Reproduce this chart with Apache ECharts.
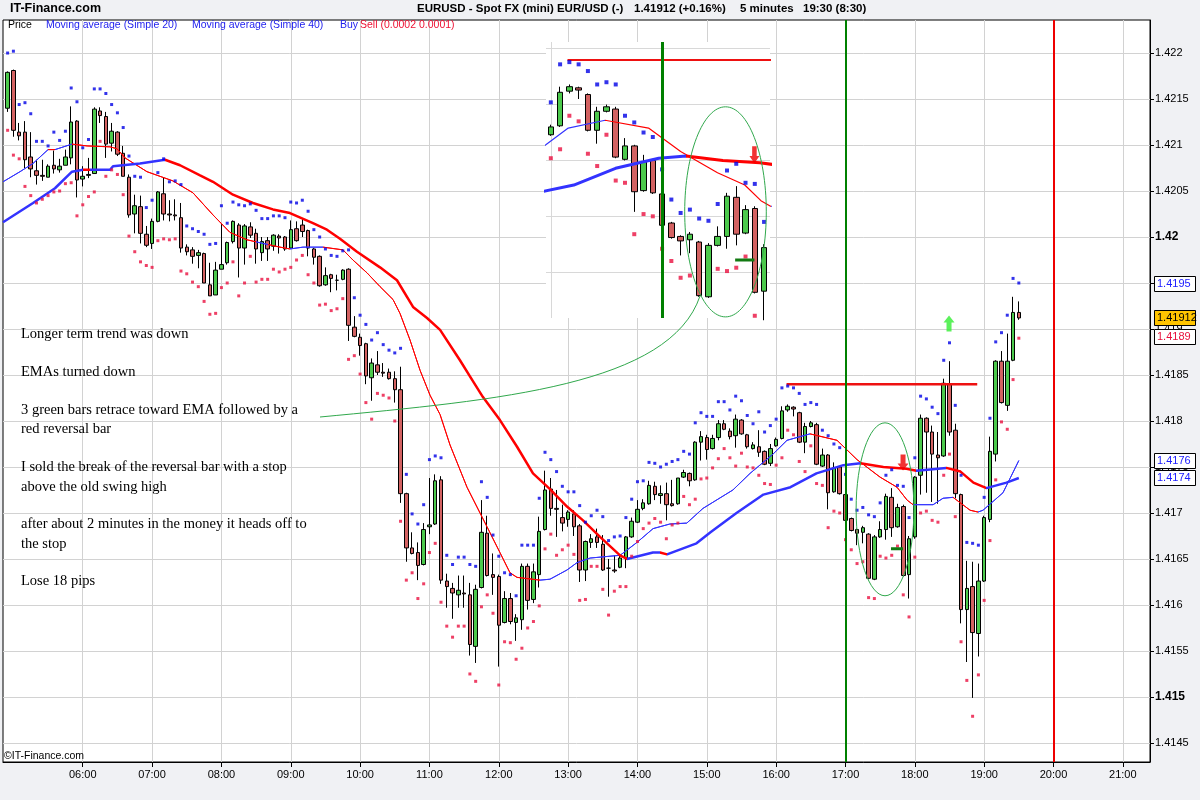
<!DOCTYPE html>
<html><head><meta charset="utf-8">
<script src="https://cdn.jsdelivr.net/npm/echarts@6/dist/echarts.min.js"></script>
<style>html,body{margin:0;padding:0;background:#f0f1f4;}#c{width:1200px;height:800px;}</style>
</head><body><div id="c"></div><script>
// ---- bar timing (minutes after midnight) ----
const barStartMin = 295; // 04:55
const barStepMin = 5;
// ---- OHLC ----
const opens = [1.42140,1.42181,1.42114,1.42114,1.42087,1.42072,1.42067,1.42065,1.42078,1.42073,1.42078,1.42086,1.42126,1.42063,1.42068,1.42069,1.42137,1.42131,1.42102,1.42114,1.42091,1.42065,1.42025,1.42033,1.42003,1.41993,1.42017,1.42047,1.42025,1.42024,1.42021,1.41989,1.41986,1.41980,1.41982,1.41948,1.41937,1.41965,1.41972,1.41995,1.42013,1.41988,1.42011,1.42004,1.41983,1.41996,1.41990,1.42001,1.42000,1.41988,1.42009,1.42013,1.42007,1.41987,1.41979,1.41948,1.41959,1.41953,1.41954,1.41965,1.41902,1.41891,1.41884,1.41847,1.41861,1.41853,1.41853,1.41846,1.41834,1.41721,1.41662,1.41657,1.41644,1.41685,1.41688,1.41736,1.41626,1.41618,1.41611,1.41613,1.41611,1.41555,1.41619,1.41678,1.41633,1.41631,1.41581,1.41607,1.41581,1.41584,1.41642,1.41606,1.41633,1.41682,1.41726,1.41705,1.41695,1.41693,1.41699,1.41686,1.41638,1.41668,1.41674,1.41666,1.41640,1.41638,1.41641,1.41651,1.41674,1.41690,1.41705,1.41710,1.41729,1.41719,1.41721,1.41710,1.41710,1.41739,1.41743,1.41736,1.41777,1.41782,1.41770,1.41782,1.41797,1.41789,1.41784,1.41801,1.41785,1.41770,1.41772,1.41767,1.41754,1.41773,1.41781,1.41812,1.41815,1.41809,1.41777,1.41794,1.41796,1.41751,1.41763,1.41723,1.41750,1.41720,1.41694,1.41682,1.41679,1.41677,1.41628,1.41674,1.41682,1.41717,1.41685,1.41707,1.41633,1.41674,1.41741,1.41803,1.41788,1.41763,1.41762,1.41840,1.41790,1.41720,1.41595,1.41620,1.41569,1.41626,1.41693,1.41764,1.41865,1.41817,1.41866,1.41918];
const highs = [1.42180,1.42182,1.42124,1.42126,1.42114,1.42084,1.42084,1.42079,1.42094,1.42085,1.42095,1.42142,1.42127,1.42077,1.42086,1.42141,1.42141,1.42136,1.42124,1.42115,1.42099,1.42068,1.42046,1.42045,1.42012,1.42020,1.42050,1.42065,1.42040,1.42041,1.42037,1.41992,1.41989,1.41986,1.41983,1.41972,1.41973,1.42014,1.41995,1.42018,1.42015,1.42014,1.42016,1.42009,1.42000,1.42000,1.42003,1.42003,1.42001,1.42018,1.42017,1.42020,1.42008,1.41988,1.41980,1.41967,1.41960,1.41959,1.41965,1.41966,1.41914,1.41895,1.41885,1.41868,1.41876,1.41863,1.41857,1.41854,1.41859,1.41722,1.41679,1.41668,1.41689,1.41738,1.41742,1.41740,1.41634,1.41624,1.41632,1.41632,1.41624,1.41622,1.41714,1.41697,1.41656,1.41633,1.41615,1.41613,1.41590,1.41645,1.41645,1.41645,1.41696,1.41746,1.41738,1.41725,1.41709,1.41703,1.41703,1.41688,1.41670,1.41677,1.41683,1.41676,1.41650,1.41654,1.41655,1.41675,1.41695,1.41714,1.41715,1.41735,1.41734,1.41730,1.41733,1.41736,1.41738,1.41747,1.41744,1.41778,1.41789,1.41785,1.41785,1.41801,1.41801,1.41792,1.41807,1.41802,1.41786,1.41777,1.41790,1.41768,1.41775,1.41782,1.41816,1.41818,1.41816,1.41810,1.41798,1.41800,1.41798,1.41770,1.41764,1.41755,1.41751,1.41722,1.41695,1.41683,1.41686,1.41678,1.41676,1.41691,1.41721,1.41727,1.41710,1.41709,1.41675,1.41740,1.41807,1.41804,1.41795,1.41788,1.41846,1.41865,1.41797,1.41721,1.41648,1.41647,1.41645,1.41697,1.41783,1.41866,1.41876,1.41895,1.41935,1.41930];
const lows = [1.42136,1.42109,1.42105,1.42075,1.42065,1.42057,1.42061,1.42065,1.42069,1.42070,1.42078,1.42079,1.42043,1.42055,1.42064,1.42069,1.42124,1.42086,1.42093,1.42088,1.42066,1.42021,1.42004,1.41993,1.41989,1.41987,1.42016,1.42018,1.42017,1.42018,1.41983,1.41980,1.41971,1.41966,1.41950,1.41936,1.41937,1.41965,1.41970,1.41993,1.41956,1.41970,1.41999,1.41971,1.41974,1.41974,1.41985,1.41982,1.41985,1.41987,1.41995,1.42000,1.41979,1.41970,1.41946,1.41947,1.41940,1.41942,1.41953,1.41887,1.41891,1.41871,1.41840,1.41822,1.41850,1.41848,1.41845,1.41820,1.41711,1.41647,1.41655,1.41627,1.41643,1.41677,1.41687,1.41623,1.41597,1.41585,1.41597,1.41597,1.41545,1.41537,1.41618,1.41631,1.41611,1.41533,1.41580,1.41579,1.41561,1.41573,1.41595,1.41602,1.41619,1.41681,1.41697,1.41674,1.41680,1.41685,1.41675,1.41625,1.41626,1.41662,1.41662,1.41637,1.41609,1.41635,1.41640,1.41640,1.41673,1.41689,1.41703,1.41709,1.41714,1.41710,1.41692,1.41707,1.41709,1.41738,1.41729,1.41735,1.41757,1.41758,1.41769,1.41779,1.41790,1.41780,1.41771,1.41785,1.41770,1.41769,1.41761,1.41752,1.41751,1.41772,1.41780,1.41810,1.41805,1.41776,1.41765,1.41793,1.41752,1.41750,1.41704,1.41722,1.41720,1.41691,1.41680,1.41665,1.41667,1.41628,1.41627,1.41673,1.41671,1.41674,1.41684,1.41631,1.41607,1.41672,1.41720,1.41722,1.41712,1.41710,1.41761,1.41784,1.41716,1.41580,1.41538,1.41499,1.41544,1.41625,1.41690,1.41756,1.41819,1.41811,1.41865,1.41910];
const closes = [1.42179,1.42116,1.42110,1.42084,1.42074,1.42067,1.42066,1.42077,1.42074,1.42077,1.42087,1.42125,1.42062,1.42066,1.42067,1.42139,1.42132,1.42101,1.42115,1.42090,1.42066,1.42024,1.42034,1.42004,1.41991,1.42017,1.42049,1.42025,1.42024,1.42023,1.41988,1.41984,1.41979,1.41983,1.41950,1.41936,1.41964,1.41970,1.41994,1.42017,1.41988,1.42012,1.42002,1.41987,1.41995,1.41987,1.42002,1.41999,1.41987,1.42008,1.41996,1.42006,1.41988,1.41978,1.41947,1.41958,1.41955,1.41953,1.41964,1.41904,1.41892,1.41882,1.41849,1.41863,1.41853,1.41852,1.41846,1.41834,1.41721,1.41662,1.41656,1.41643,1.41682,1.41687,1.41735,1.41627,1.41620,1.41613,1.41616,1.41612,1.41557,1.41617,1.41679,1.41632,1.41630,1.41578,1.41607,1.41582,1.41586,1.41642,1.41605,1.41636,1.41680,1.41725,1.41705,1.41704,1.41689,1.41701,1.41685,1.41638,1.41669,1.41672,1.41668,1.41638,1.41640,1.41637,1.41651,1.41674,1.41691,1.41704,1.41711,1.41730,1.41720,1.41721,1.41709,1.41708,1.41738,1.41744,1.41735,1.41777,1.41783,1.41769,1.41781,1.41797,1.41791,1.41783,1.41802,1.41786,1.41772,1.41774,1.41766,1.41753,1.41770,1.41780,1.41811,1.41816,1.41813,1.41777,1.41794,1.41798,1.41753,1.41763,1.41722,1.41749,1.41721,1.41692,1.41681,1.41678,1.41684,1.41629,1.41674,1.41682,1.41718,1.41684,1.41706,1.41632,1.41672,1.41739,1.41803,1.41788,1.41764,1.41760,1.41841,1.41788,1.41721,1.41595,1.41618,1.41570,1.41626,1.41695,1.41767,1.41865,1.41820,1.41865,1.41918,1.41912];
// ---- Buy (blue, above) / Sell (red, below) dots ----
const buyVals = [1.42200,1.42202,1.42144,1.42146,1.42134,1.42104,1.42104,1.42099,1.42114,1.42105,1.42115,1.42162,1.42147,1.42097,1.42106,1.42161,1.42161,1.42156,1.42144,1.42135,1.42119,1.42088,1.42066,1.42065,1.42032,1.42040,1.42070,1.42085,1.42060,1.42061,1.42057,1.42012,1.42009,1.42006,1.42003,1.41992,1.41993,1.42034,1.42015,1.42038,1.42035,1.42034,1.42036,1.42029,1.42020,1.42020,1.42023,1.42023,1.42021,1.42038,1.42037,1.42040,1.42028,1.42008,1.42000,1.41987,1.41980,1.41979,1.41985,1.41986,1.41934,1.41915,1.41905,1.41888,1.41896,1.41883,1.41877,1.41874,1.41879,1.41742,1.41699,1.41688,1.41709,1.41758,1.41762,1.41760,1.41654,1.41644,1.41652,1.41652,1.41644,1.41642,1.41734,1.41717,1.41676,1.41653,1.41635,1.41633,1.41610,1.41665,1.41665,1.41665,1.41716,1.41766,1.41758,1.41745,1.41729,1.41723,1.41723,1.41708,1.41690,1.41697,1.41703,1.41696,1.41670,1.41674,1.41675,1.41695,1.41715,1.41734,1.41735,1.41755,1.41754,1.41750,1.41753,1.41756,1.41758,1.41767,1.41764,1.41798,1.41809,1.41805,1.41805,1.41821,1.41821,1.41812,1.41827,1.41822,1.41806,1.41797,1.41810,1.41788,1.41795,1.41802,1.41836,1.41838,1.41836,1.41830,1.41818,1.41820,1.41818,1.41790,1.41784,1.41775,1.41771,1.41742,1.41715,1.41703,1.41706,1.41698,1.41696,1.41711,1.41741,1.41747,1.41730,1.41729,1.41695,1.41760,1.41827,1.41824,1.41815,1.41808,1.41866,1.41885,1.41817,1.41741,1.41668,1.41667,1.41665,1.41717,1.41803,1.41886,1.41896,1.41915,1.41955,1.41950];
const sellVals = [1.42116,1.42089,1.42085,1.42055,1.42045,1.42037,1.42041,1.42045,1.42049,1.42050,1.42058,1.42059,1.42023,1.42035,1.42044,1.42049,1.42104,1.42066,1.42073,1.42068,1.42046,1.42001,1.41984,1.41973,1.41969,1.41967,1.41996,1.41998,1.41997,1.41998,1.41963,1.41960,1.41951,1.41946,1.41930,1.41916,1.41917,1.41945,1.41950,1.41973,1.41936,1.41950,1.41979,1.41951,1.41954,1.41954,1.41965,1.41962,1.41965,1.41967,1.41975,1.41980,1.41959,1.41950,1.41926,1.41927,1.41920,1.41922,1.41933,1.41867,1.41871,1.41851,1.41820,1.41802,1.41830,1.41828,1.41825,1.41800,1.41691,1.41627,1.41635,1.41607,1.41623,1.41657,1.41667,1.41603,1.41577,1.41565,1.41577,1.41577,1.41525,1.41517,1.41598,1.41611,1.41591,1.41513,1.41560,1.41559,1.41541,1.41553,1.41575,1.41582,1.41599,1.41661,1.41677,1.41654,1.41660,1.41665,1.41655,1.41605,1.41606,1.41642,1.41642,1.41617,1.41589,1.41615,1.41620,1.41620,1.41653,1.41669,1.41683,1.41689,1.41694,1.41690,1.41672,1.41687,1.41689,1.41718,1.41709,1.41715,1.41737,1.41738,1.41749,1.41759,1.41770,1.41760,1.41751,1.41765,1.41750,1.41749,1.41741,1.41732,1.41731,1.41752,1.41760,1.41790,1.41785,1.41756,1.41745,1.41773,1.41732,1.41730,1.41684,1.41702,1.41700,1.41671,1.41660,1.41645,1.41647,1.41608,1.41607,1.41653,1.41651,1.41654,1.41664,1.41611,1.41587,1.41652,1.41700,1.41702,1.41692,1.41690,1.41741,1.41764,1.41696,1.41560,1.41518,1.41479,1.41524,1.41605,1.41670,1.41736,1.41799,1.41791,1.41845,1.41890];
// ---- moving averages ----
const sma20Times = [291,305.7,317,330,336,350.7,363.7,383.6,389.6,396.6,415.6,438,455.4,472.7,487.4,502.1,516,530.7,539.3,550.6,567.9,585.2,593.8,606,617.3,628.5,634.5,643.2,651.9,660.5,669.2,677.8,692.5,709.8,721,729.7,735.8,755.7,764.3,779,787.7,799,825,839.6,853.5,868,882.7,896.7,922.6,937.4,957.3,969.4,989.3,1012.7,1030,1049.9,1064.6,1073.3,1078.5,1095.8,1104.4,1113.1,1127.8,1134.7,1139,1156.3,1170];
const sma20Vals = [1.42060,1.42071,1.42080,1.42095,1.42095,1.42101,1.42099,1.42098,1.42096,1.42086,1.42071,1.42061,1.42048,1.42024,1.42005,1.41997,1.41993,1.41989,1.41987,1.41989,1.41989,1.41986,1.41975,1.41961,1.41946,1.41932,1.41917,1.41888,1.41855,1.41828,1.41807,1.41774,1.41728,1.41685,1.41657,1.41635,1.41630,1.41627,1.41628,1.41638,1.41646,1.41651,1.41654,1.41668,1.41683,1.41688,1.41689,1.41705,1.41725,1.41743,1.41764,1.41779,1.41786,1.41779,1.41758,1.41739,1.41728,1.41714,1.41709,1.41709,1.41716,1.41717,1.41703,1.41701,1.41703,1.41722,1.41757];
const sma20RedSpans = [[330,336],[350.7,510],[520,539.3],[567.9,755.7],[989.3,1078.5],[1113.1,1134.7]];
const sma40Times = [291,317,336,350.7,360.2,366.3,383.6,386.2,409.5,431.2,444.2,461.5,472.7,490,507.3,524.6,539.3,559.2,571.3,582.6,597.3,617.2,631.9,645.8,657.9,669.2,686.4,696.8,706.3,721,735.8,749.6,764.3,779,792.9,807.6,824.9,831,853.4,859.5,865.6,891.1,903.2,925.7,949,972.4,994.9,1018.2,1032.9,1052.8,1072.7,1081.4,1107.3,1119.5,1130.7,1142,1159.3,1170];
const sma40Vals = [1.42016,1.42037,1.42053,1.42071,1.42073,1.42073,1.42073,1.42077,1.42080,1.42084,1.42078,1.42067,1.42060,1.42046,1.42037,1.42030,1.42026,1.42015,1.42008,1.41998,1.41984,1.41967,1.41953,1.41924,1.41912,1.41899,1.41866,1.41845,1.41826,1.41801,1.41772,1.41743,1.41726,1.41707,1.41692,1.41674,1.41654,1.41650,1.41657,1.41657,1.41655,1.41667,1.41679,1.41700,1.41720,1.41728,1.41743,1.41752,1.41754,1.41750,1.41748,1.41746,1.41749,1.41745,1.41733,1.41727,1.41733,1.41738];
const sma40RedSpans = [[360.2,366.3],[431.2,831],[859.5,865.6],[1032.9,1081.4],[1107.3,1142]];
// ---- annotations ----
const stopLevel = {from: 969, to: 1134, value: 1.4184};
const fillMark = {from: 1059.4, to: 1069.8, value: 1.41661};
const arrowTimes = [1069.8, 1109.6];
const arrowVals = [1.41755, 1.41906];
const arrowDirs = ['down', 'up'];
const vLines = [{t: 1020, color: '#008000'}, {t: 1200, color: '#ee0000'}];
const ellipseCenter = [1054.2, 1.41704];
const ellipseRy = 0.00094, ellipseRxMain = 25, ellipseRxInset = 22;
const yTicks = [1.4145,1.415,1.4155,1.416,1.4165,1.417,1.4175,1.418,1.4185,1.419,1.4195,1.42,1.4205,1.421,1.4215,1.422];
const xTicks = [360,420,480,540,600,660,720,780,840,900,960,1020,1080,1140,1200,1260];
const insetYTicks = [1.416,1.4165,1.417,1.4175,1.418,1.4185];
const insetXTicks = [960];
const priceBoxes = [
  {v:1.41949, text:'1.4195', color:'#2020ff', bg:'#fff'},
  {v:1.41912, text:'1.41912', color:'#000', bg:'#ffc400'},
  {v:1.41891, text:'1.4189', color:'#e8103c', bg:'#fff'},
  {v:1.41757, text:'1.4176', color:'#2020ff', bg:'#fff'},
  {v:1.41738, text:'1.4174', color:'#2020ff', bg:'#fff'}
];
const notes = [
  ['Longer term trend was down', 334],
  ['EMAs turned down', 372],
  ['3 green bars retrace toward EMA followed by a', 410],
  ['red reversal bar', 429],
  ['I sold the break of the reversal bar with a stop', 467],
  ['above the old swing high', 487],
  ['after about 2 minutes in the money it heads off to', 524],
  ['the stop', 544],
  ['Lose 18 pips', 581]
];

// ---------------------------------------------------------------
const BLUE = '#3333ff', RED = '#ff0000';
const times = opens.map((_, i) => barStartMin + i * barStepMin);
const candles = times.map((t, i) => [t, opens[i], closes[i], lows[i], highs[i]]);
const buys = times.map((t, i) => [t, buyVals[i]]);
const sells = times.map((t, i) => [t, sellVals[i]]);
const sma20 = sma20Times.map((t, i) => [t, sma20Vals[i]]);
const sma40 = sma40Times.map((t, i) => [t, sma40Vals[i]]);
const inInset = d => d[0] >= 955 && d[0] <= 1075;
function pieces(spans) {
  const p = []; let prev = 0;
  spans.forEach(([a, b]) => { p.push({gte: prev, lt: a, color: BLUE}); p.push({gte: a, lt: b, color: RED}); prev = b; });
  p.push({gte: prev, lte: 5000, color: BLUE});
  return p;
}
const downPath = 'path://M3,0 L8,0 L8,9 L11,9 L5.5,16 L0,9 L3,9 Z';
const upPath = 'path://M5.5,0 L11,7 L8,7 L8,16 L3,16 L3,7 L0,7 Z';
const arrows = arrowTimes.map((t, i) => ({value: [t, arrowVals[i]], symbol: arrowDirs[i] === 'down' ? downPath : upPath,
  itemStyle: {color: arrowDirs[i] === 'down' ? '#ee0000' : '#33ee33'}}));
const hhmm = v => { const h = Math.floor(v / 60), m = Math.round(v % 60); return String(h).padStart(2, '0') + ':' + String(m).padStart(2, '0'); };

function setSeries(xi, yi, inset) {
  const cw = inset ? 6 : 4, ds = inset ? 4 : 3;
  const cd = inset ? candles.filter(inInset) : candles;
  const bd = inset ? buys.filter(inInset) : buys;
  const sd = inset ? sells.filter(inInset) : sells;
  const ad = inset ? arrows.filter(a => a.value[0] < 1078) : arrows;
  return [
    {type: 'candlestick', xAxisIndex: xi, yAxisIndex: yi, data: cd, encode: {x: 0, y: [1, 2, 3, 4]}, barWidth: cw, z: 2,
      itemStyle: {color: '#4cc94c', color0: '#d36262', borderColor: '#000', borderColor0: '#000', borderWidth: 1}},
    {type: 'line', xAxisIndex: xi, yAxisIndex: yi, data: sma20, showSymbol: false, lineStyle: {width: inset ? 1.2 : 1}, z: 3},
    {type: 'line', xAxisIndex: xi, yAxisIndex: yi, data: sma40, showSymbol: false, lineStyle: {width: inset ? 3 : 2.5}, z: 3},
    {type: 'scatter', xAxisIndex: xi, yAxisIndex: yi, data: bd, symbol: 'rect', symbolSize: ds, itemStyle: {color: '#0000e6'}, z: 4},
    {type: 'scatter', xAxisIndex: xi, yAxisIndex: yi, data: sd, symbol: 'rect', symbolSize: ds, itemStyle: {color: '#ea1040'}, z: 4},
    {type: 'line', xAxisIndex: xi, yAxisIndex: yi, data: [[stopLevel.from, stopLevel.value], [stopLevel.to, stopLevel.value]],
      showSymbol: false, lineStyle: {color: '#ee1111', width: inset ? 2 : 2.5}, z: 4,
      markLine: {silent: true, symbol: ['none', 'none'], label: {show: false}, animation: false,
        data: (inset ? vLines.slice(0, 1) : vLines).map(l => ({xAxis: l.t, lineStyle: {color: l.color, width: inset ? 3 : 2, type: 'solid'}}))}},
    {type: 'line', xAxisIndex: xi, yAxisIndex: yi, data: [[fillMark.from, fillMark.value], [fillMark.to, fillMark.value]],
      showSymbol: false, lineStyle: {color: '#127a12', width: 3}, z: 5},
    {type: 'scatter', xAxisIndex: xi, yAxisIndex: yi, data: ad, symbolSize: inset ? [10, 17] : [11, 16], z: 6}
  ];
}
const mainSeries = setSeries(0, 0, false);
const insetSeries = setSeries(1, 1, true);
const series = mainSeries.concat(insetSeries);

const chart = echarts.init(document.getElementById('c'));
chart.setOption({
  animation: false,
  backgroundColor: '#f0f1f4',
  grid: [
    {left: 3, top: 20, right: 50, bottom: 38, show: true, backgroundColor: '#fff', borderColor: '#000', borderWidth: 1},
    {left: 546, top: 42, width: 224, height: 276, show: false}
  ],
  xAxis: [
    {type: 'value', gridIndex: 0, min: 291, max: 1283.5,
      axisLine: {show: true, onZero: false, lineStyle: {color: '#000'}},
      axisTick: {show: true, length: 5, customValues: xTicks, lineStyle: {color: '#000'}},
      axisLabel: {customValues: xTicks, formatter: hhmm, color: '#000', fontSize: 11, fontFamily: 'Liberation Sans', margin: 7},
      splitLine: {show: true, lineStyle: {color: '#d2d2d2'}}},
    {type: 'value', gridIndex: 1, min: 957.4, max: 1078.2, z: 1,
      axisLine: {show: false}, axisTick: {show: false, customValues: insetXTicks}, axisLabel: {show: false, customValues: insetXTicks},
      splitLine: {show: true, lineStyle: {color: '#d8d8d8'}}}
  ],
  yAxis: [
    {type: 'value', gridIndex: 0, position: 'right', min: 1.414293, max: 1.422359, scale: true,
      axisLine: {show: true, lineStyle: {color: '#000'}},
      axisTick: {show: true, length: 4, customValues: yTicks, lineStyle: {color: '#000'}},
      axisLabel: {customValues: yTicks, color: '#000', fontSize: 11, fontFamily: 'Liberation Sans', margin: 5,
        formatter: v => { const s = String(parseFloat(v.toFixed(4))); return (s === '1.42' || s === '1.415') ? '{b|' + s + '}' : s; },
        rich: {b: {fontWeight: 'bold', fontSize: 12, fontFamily: 'Liberation Sans', color: '#000'}}},
      splitLine: {show: true, lineStyle: {color: '#d2d2d2'}}},
    {type: 'value', gridIndex: 1, min: 1.41609, max: 1.41856, scale: true, z: 1,
      axisLine: {show: false}, axisTick: {show: false, customValues: insetYTicks}, axisLabel: {show: false, customValues: insetYTicks},
      splitLine: {show: true, lineStyle: {color: '#d8d8d8'}}}
  ],
  visualMap: [
    {show: false, type: 'piecewise', seriesIndex: [1, 9], dimension: 0, pieces: pieces(sma20RedSpans)},
    {show: false, type: 'piecewise', seriesIndex: [2, 10], dimension: 0, pieces: pieces(sma40RedSpans)}
  ],
  series: series
});

// ---- overlay graphics anchored with the chart's own scales ----
const P = (gi, t, v) => chart.convertToPixel({gridIndex: gi}, [t, v]);
const g = [];
g.push({type: 'rect', z: 0.5, shape: {x: 546, y: 42, width: 224, height: 276}, style: {fill: '#fff'}});
[[0, ellipseRxMain], [1, ellipseRxInset]].forEach(([gi, rx]) => {
  const c = P(gi, ellipseCenter[0], ellipseCenter[1]);
  const e1 = P(gi, ellipseCenter[0] + rx, ellipseCenter[1] + ellipseRy);
  g.push({type: 'ellipse', z: 10, shape: {cx: c[0], cy: c[1], rx: Math.abs(e1[0] - c[0]), ry: Math.abs(e1[1] - c[1])},
    style: {fill: 'none', stroke: '#30a84c', lineWidth: 1}});
});
g.push({type: 'bezierCurve', z: 10, shape: {x1: 320, y1: 417, cpx1: 500, cpy1: 400, cpx2: 670, cpy2: 385, x2: 700, y2: 296},
  style: {fill: 'none', stroke: '#30a84c', lineWidth: 1}});
notes.forEach(([txt, y]) => g.push({type: 'text', z: 10, x: 21, y: y,
  style: {text: txt, font: '14.5px "Liberation Serif", "Times New Roman", serif', fill: '#000', verticalAlign: 'middle', textVerticalAlign: 'middle'}}));
g.push({type: 'text', z: 10, x: 10, y: 9, style: {text: 'IT-Finance.com', font: 'bold 12.5px "Liberation Sans", Arial', fill: '#000', verticalAlign: 'middle', textVerticalAlign: 'middle'}});
[['EURUSD - Spot FX (mini) EUR/USD (-)', 417], ['1.41912 (+0.16%)', 634], ['5 minutes', 740], ['19:30 (8:30)', 803]].forEach(([s, x]) =>
  g.push({type: 'text', z: 10, x: x, y: 9, style: {text: s, font: 'bold 11.5px "Liberation Sans", Arial', fill: '#000', verticalAlign: 'middle', textVerticalAlign: 'middle'}}));
[['Price', 8, '#000'], ['Moving average (Simple 20)', 46, '#2222ee'], ['Moving average (Simple 40)', 192, '#2222ee'], ['Buy', 340, '#2222ee'], ['Sell (0.0002 0.0001)', 360, '#ee1133']].forEach(([s, x, c]) =>
  g.push({type: 'text', z: 10, x: x, y: 25.5, style: {text: s, font: '10.5px "Liberation Sans", Arial', fill: c, verticalAlign: 'middle', textVerticalAlign: 'middle'}}));
g.push({type: 'text', z: 10, x: 4, y: 756, style: {text: '\u00A9IT-Finance.com', font: '10.5px "Liberation Sans", Arial', fill: '#000', verticalAlign: 'middle', textVerticalAlign: 'middle'}});
priceBoxes.forEach(b => {
  const y = chart.convertToPixel({yAxisIndex: 0}, b.v);
  g.push({type: 'rect', z: 20, shape: {x: 1154.5, y: Math.round(y) - 7.5, width: 41, height: 15}, style: {fill: b.bg, stroke: '#000', lineWidth: 1}});
  g.push({type: 'text', z: 21, x: 1157, y: Math.round(y), style: {text: b.text, font: '11px "Liberation Sans", Arial', fill: b.color, verticalAlign: 'middle', textVerticalAlign: 'middle'}});
});
chart.setOption({graphic: {elements: g}});
</script></body></html>
